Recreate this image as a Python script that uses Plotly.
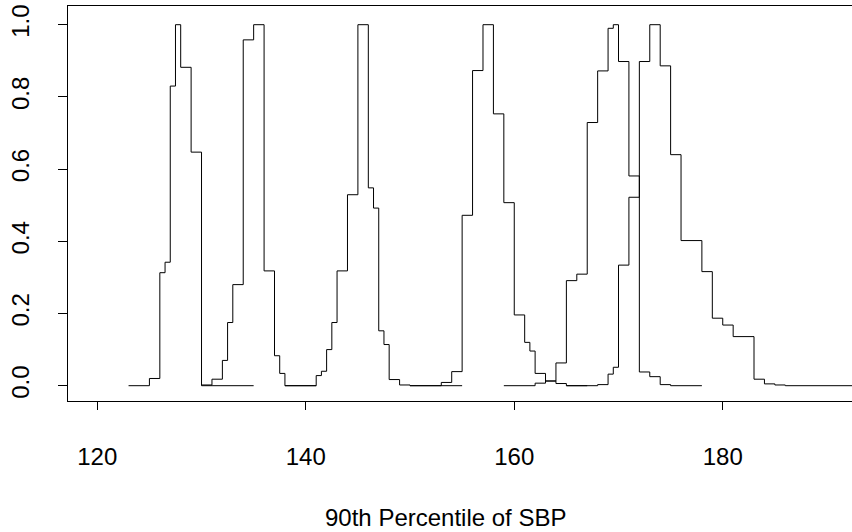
import plotly.graph_objects as go

# Step curves (value holds from x_i up to x_{i+1})
c1_x = [123, 125, 126, 126.5, 127, 127.5, 128, 129, 130, 135]
c1_y = [0, 0.020, 0.313, 0.342, 0.830, 1.0, 0.882, 0.647, 0, 0]

c2_x = [130, 131, 132, 132.5, 133, 134, 135, 136, 137, 137.5, 138, 141]
c2_y = [0.002, 0.018, 0.070, 0.175, 0.280, 0.958, 1.0, 0.318, 0.083, 0.034, 0, 0]

c3_x = [138, 141, 141.5, 142, 142.5, 143, 144, 145, 146, 146.5, 147, 147.5, 148, 149, 150, 155]
c3_y = [0, 0.028, 0.040, 0.100, 0.175, 0.318, 0.529, 1.0, 0.548, 0.492, 0.152, 0.114, 0.017, 0.002, 0, 0]

c4_x = [150, 153, 154, 155, 156, 157, 158, 159, 160, 161, 161.5, 162, 163, 164, 165, 167]
c4_y = [0, 0.009, 0.039, 0.472, 0.873, 1.0, 0.753, 0.507, 0.196, 0.120, 0.096, 0.034, 0.013, 0.006, 0, 0]

c5_x = [159, 162, 163, 164, 165, 166, 167, 168, 169, 169.5, 170, 171, 172, 173, 174, 175, 178]
c5_y = [0, 0.007, 0.013, 0.063, 0.291, 0.309, 0.729, 0.872, 0.990, 1.0, 0.898, 0.581, 0.038, 0.025, 0.003, 0, 0]

c6_x = [165, 168, 169, 169.5, 170, 171, 172, 173, 174, 175, 176, 178, 179, 180, 181, 183, 184, 185, 186, 195]
c6_y = [0, 0.003, 0.032, 0.051, 0.334, 0.522, 0.898, 1.0, 0.886, 0.640, 0.402, 0.316, 0.187, 0.168, 0.136, 0.018, 0.005, 0.002, 0, 0]

x_ticks = [120, 140, 160, 180]
y_ticks = [0.0, 0.2, 0.4, 0.6, 0.8, 1.0]
x_title = "90th Percentile of SBP"

FONT = "Liberation Sans, Arial, Helvetica, sans-serif"

fig = go.Figure()
for xs, ys in [(c1_x, c1_y), (c2_x, c2_y), (c3_x, c3_y), (c4_x, c4_y), (c5_x, c5_y), (c6_x, c6_y)]:
    fig.add_trace(go.Scatter(x=xs, y=ys, mode="lines", line=dict(color="black", width=1, shape="hv"),
                             showlegend=False, hoverinfo="skip"))

fig.update_layout(
    width=852, height=532,
    margin=dict(l=68, r=0, t=6, b=131),
    paper_bgcolor="white", plot_bgcolor="white",
    font=dict(family=FONT, size=24, color="black"),
    showlegend=False,
)
fig.update_xaxes(
    range=[117.19, 192.40], tickmode="array", tickvals=x_ticks,
    ticks="outside", ticklen=8, tickcolor="black", tickwidth=1,
    showline=True, linecolor="black", linewidth=1, mirror=True,
    showgrid=False, zeroline=False, ticklabelstandoff=26,
    tickfont=dict(family=FONT, size=24, color="black"),
)
fig.update_yaxes(
    range=[-0.0424, 1.0518], tickmode="array", tickvals=y_ticks,
    ticktext=["%.1f" % v for v in y_ticks],
    ticks="outside", ticklen=9, tickcolor="black", tickwidth=1,
    showline=True, linecolor="black", linewidth=1, mirror=False,
    showgrid=False, zeroline=False, tickangle=-90, ticklabelstandoff=19,
    tickfont=dict(family=FONT, size=24, color="black"),
)
fig.add_annotation(
    text=x_title, xref="paper", yref="paper",
    x=(445 - 68) / 784, y=(401 - 517) / 395,
    xanchor="center", yanchor="middle", showarrow=False,
    font=dict(family=FONT, size=24, color="black"),
)
fig.write_html("out.html", config={"displayModeBar": False},
               post_script="document.body.style.margin='0px';document.body.style.overflow='hidden';")
